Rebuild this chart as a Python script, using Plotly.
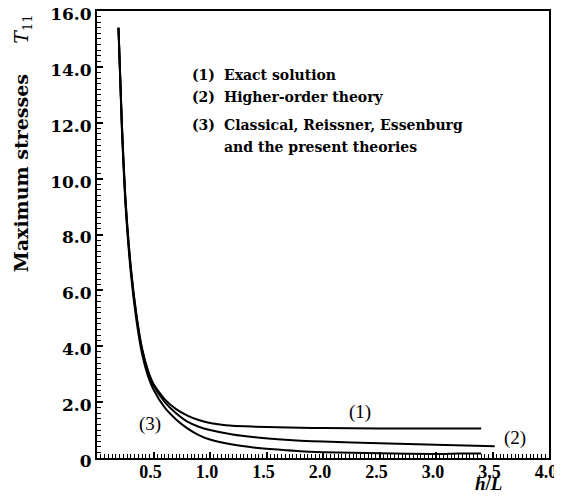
import plotly.graph_objects as go

# ---- data ----
x_exact = [0.19, 0.22, 0.25, 0.3, 0.35, 0.4, 0.45, 0.5, 0.6, 0.7, 0.8, 0.9, 1.0, 1.2, 1.4, 1.6, 1.8, 2.0, 2.5, 3.0, 3.4]
y_exact = [15.4, 12.0, 9.4, 6.8, 5.1, 3.9, 3.15, 2.65, 2.1, 1.75, 1.52, 1.36, 1.25, 1.15, 1.12, 1.1, 1.08, 1.07, 1.06, 1.06, 1.06]

x_higher = [0.19, 0.22, 0.25, 0.3, 0.35, 0.4, 0.45, 0.5, 0.6, 0.7, 0.8, 0.9, 1.0, 1.2, 1.4, 1.6, 1.8, 2.0, 2.5, 3.0, 3.52]
y_higher = [15.4, 11.9, 9.35, 6.75, 5.05, 3.85, 3.1, 2.6, 2.0, 1.6, 1.3, 1.12, 1.0, 0.84, 0.74, 0.67, 0.62, 0.59, 0.53, 0.47, 0.42]

x_classical = [0.19, 0.22, 0.25, 0.3, 0.35, 0.4, 0.45, 0.5, 0.6, 0.7, 0.8, 0.9, 1.0, 1.2, 1.4, 1.6, 1.8, 2.0, 2.5, 3.0, 3.2, 3.4]
y_classical = [15.4, 11.8, 9.2, 6.6, 4.9, 3.7, 2.95, 2.45, 1.8, 1.38, 1.06, 0.82, 0.66, 0.48, 0.37, 0.3, 0.24, 0.21, 0.17, 0.14, 0.16, 0.16]

x_range = [0, 4.0]
y_range = [0, 16.0]
x_major_step = 0.5
y_major_step = 2.0
x_minor_step = 1 / 30
y_minor_step = 0.2

curve_labels = ["(1)", "(2)", "(3)"]
curve_label_x = [2.33, 3.70, 0.47]
curve_label_y = [1.65, 0.72, 1.2]

legend_nums = ["(1)", "(2)", "(3)", ""]
legend_texts = [
    "Exact solution",
    "Higher-order theory",
    "Classical, Reissner, Essenburg",
    "and the present theories",
]

SERIF = "DejaVu Serif"

fig = go.Figure()
for xs, ys in [(x_exact, y_exact), (x_higher, y_higher), (x_classical, y_classical)]:
    fig.add_trace(go.Scatter(x=xs, y=ys, mode="lines",
                             line=dict(color="black", width=2, shape="spline", smoothing=0.6),
                             showlegend=False, hoverinfo="skip"))

for t, lx, ly in zip(curve_labels, curve_label_x, curve_label_y):
    fig.add_annotation(x=lx, y=ly, xref="x", yref="y", text=t, showarrow=False,
                       font=dict(family="Liberation Serif", size=19, color="black"))

legend_y = [0.857, 0.808, 0.745, 0.696]
for num, txt, ly in zip(legend_nums, legend_texts, legend_y):
    if num:
        fig.add_annotation(x=0.206, y=ly, xref="paper", yref="paper", text=num, showarrow=False,
                           xanchor="left", yanchor="middle",
                           font=dict(family=SERIF, size=14, color="black", weight="bold"))
    fig.add_annotation(x=0.277, y=ly, xref="paper", yref="paper", text=txt, showarrow=False,
                       xanchor="left", yanchor="middle",
                       font=dict(family=SERIF, size=14, color="black", weight="bold"))

# axis titles
fig.add_annotation(x=0.867, y=-0.058, xref="paper", yref="paper", text="<i>h</i>/<i>L</i>", showarrow=False,
                   xanchor="center", yanchor="middle",
                   font=dict(family="Liberation Serif", size=19, color="black", weight="bold"))
fig.add_annotation(x=-0.165, y=0.705, xref="paper", yref="paper",
                   text="<b>Maximum stresses</b>&nbsp;&nbsp;&nbsp;&nbsp;&nbsp;<i>T</i><sub>11</sub>",
                   showarrow=False, xanchor="center", yanchor="middle",
                   textangle=-90, font=dict(family=SERIF, size=19, color="black"))

axis_common = dict(showgrid=False, zeroline=False, showline=True, linecolor="black", linewidth=2,
                   mirror=True, ticks="inside", tickcolor="black", ticklen=6, tickwidth=2,
                   tickmode="linear", tick0=0, tickformat=".1f", ticklabeloverflow="allow",
                   automargin=False)

fig.update_xaxes(range=x_range, dtick=x_major_step, labelalias={"0.0": " "},
                 tickfont=dict(family="Liberation Serif", size=18, color="black", weight="bold"),
                 ticklabelstandoff=-4, ticklabelshift=-3,
                 minor=dict(ticks="inside", dtick=x_minor_step, tick0=0, ticklen=4, tickcolor="black", tickwidth=1.2),
                 **axis_common)
fig.update_yaxes(range=y_range, dtick=y_major_step, labelalias={"0.0": "0"},
                 tickfont=dict(family=SERIF, size=17, color="black", weight="bold"),
                 ticklabelshift=3,
                 minor=dict(ticks="inside", dtick=y_minor_step, tick0=0, ticklen=4, tickcolor="black", tickwidth=1.2),
                 **axis_common)

# the page body adds an 8px offset on the left/top; the figure is sized so it fits the window
fig.update_layout(width=554, height=486, margin=dict(l=89, r=13, t=3, b=36, autoexpand=False),
                  plot_bgcolor="white", paper_bgcolor="white")

fig.write_html("out.html", config={"displayModeBar": False})
